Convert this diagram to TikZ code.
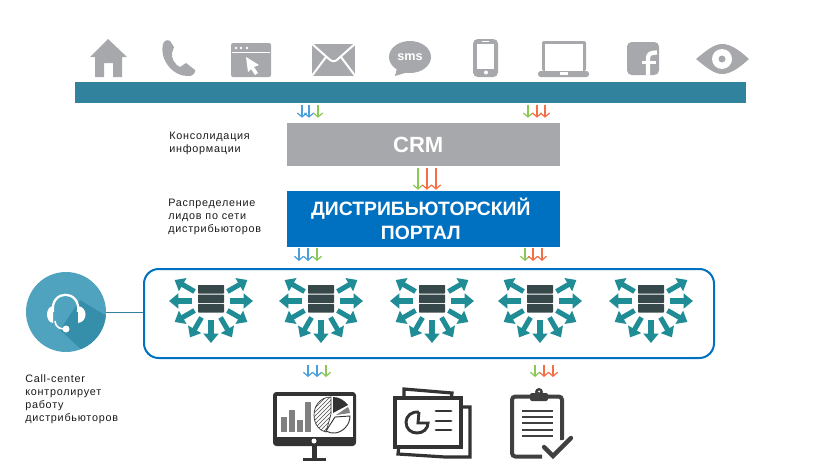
\documentclass[tikz,border=0pt]{standalone}
\usepackage{fontspec}
\usepackage{xcolor}
\usepackage{tikz}
\usetikzlibrary{arrows.meta, patterns}
\setmainfont{Liberation Sans}
\newfontfamily\labelfont[LetterSpace=7]{Liberation Sans}
\definecolor{barTeal}{HTML}{31839D}
\definecolor{iconGrey}{HTML}{A7A8AB}
\definecolor{portalBlue}{HTML}{0070C0}
\definecolor{flowBlue}{HTML}{4A9FDB}
\definecolor{flowGreen}{HTML}{8CC855}
\definecolor{flowRed}{HTML}{F56E45}
\definecolor{hubDark}{HTML}{37484A}
\definecolor{hubTeal}{HTML}{1F8C96}
\definecolor{callLight}{HTML}{4FA3BF}
\definecolor{callDark}{HTML}{358FAB}
\definecolor{iconDark}{HTML}{333333}

\begin{document}
\begin{tikzpicture}[
  x=0.75pt, y=-0.75pt,
  block/.style={minimum width=204.75pt, inner sep=0pt, align=center, text=white, font=\bfseries},
  caption/.style={anchor=north west, inner sep=0pt, align=left, font=\labelfont\fontsize{8.1}{9.75}\selectfont, text=black!90},
  icon/.style={fill=iconGrey},
  hole/.style={fill=white},
  flow/.style={-{Straight Barb[length=3pt, width=7pt]}, line width=0.9pt},
  spoke/.style={-{Triangle[length=7pt, width=11pt]}, line width=3.8pt, draw=hubTeal},
  dark/.style={draw=iconDark, line width=2.4pt},
  hub/.pic={
    \foreach \rowy in {285,294.5,304}
      \fill[hubDark, rounded corners=0.5pt] (-13,\rowy-301) rectangle (13,\rowy-301+8.5);
    \foreach \ang in {0,30,60,90,120,150,180,-150,-30}
      \draw[spoke] (\ang:19) -- (\ang:42);
  }
]
\useasboundingbox (0,0) rectangle (818,471);

\node[fill=barTeal, minimum width=503.25pt, minimum height=15.75pt, inner sep=0pt] (bar) at (410.5,92.5) {};
\node[block, fill=iconGrey, minimum height=32.25pt, font=\bfseries\fontsize{16.5}{18}\selectfont] (crm) at (423.5,144.5) {CRM\hspace*{8pt}};
\node[block, fill=portalBlue, minimum height=42pt, font=\bfseries\fontsize{14.5}{18}\selectfont] (portal) at (423.5,219) {ДИСТРИБЬЮТОРСКИЙ\hspace*{4pt}\\ПОРТАЛ\hspace*{4pt}};
\node[draw=portalBlue, line width=1.5pt, rounded corners=11pt, minimum width=427.5pt, minimum height=66.75pt, inner sep=0pt] (net) at (429,313.5) {};
\node[circle, fill=callLight, minimum size=60pt, inner sep=0pt] (callcenter) at (66,312) {};
\coordinate (reports) at (0,377);

\node[caption] (consolidation) at (169,131.5) {Консолидация\\информации};
\node[caption] (distribution) at (168,199) {Распределение\\лидов по сети\\дистрибьюторов};
\node[caption] (control) at (25,374.5) {Call-center\\контролирует\\работу\\дистрибьюторов};

\foreach \x/\c in {302/flowBlue,309/flowBlue,318/flowGreen,528/flowGreen,537/flowRed,545/flowRed}
  \draw[flow, draw=\c, shorten <=1pt, shorten >=3.75pt] (\x,0 |- bar.south) -- (\x,0 |- crm.north);
\foreach \x/\c in {418/flowGreen,427/flowRed,436/flowRed}
  \draw[flow, draw=\c, shorten <=1.5pt, shorten >=0.75pt] (\x,0 |- crm.south) -- (\x,0 |- portal.north);
\foreach \x/\c in {299/flowBlue,308/flowBlue,317/flowGreen,525/flowGreen,533/flowRed,542/flowRed}
  \draw[flow, draw=\c, shorten <=0.75pt, shorten >=5.25pt] (\x,0 |- portal.south) -- (\x,0 |- net.north);
\foreach \x/\c in {308/flowBlue,317/flowBlue,326/flowGreen,535/flowGreen,544/flowRed,553/flowRed}
  \draw[flow, draw=\c, shorten <=4.5pt] (\x,0 |- net.south) -- (\x,0 |- reports);
\draw[barTeal, line width=0.6pt] (callcenter.east) -- (callcenter.east -| net.west);

\foreach \hubx in {211,321,432,540,651}
  \pic at (\hubx,301) {hub};

\begin{scope}
  \clip (callcenter.center) circle (40);
  \fill[callDark] (80,300) -- (110,318) -- (110,380) -- (84,352) -- (60,330) -- cycle;
\end{scope}
\draw[white, line width=1.7pt] (53,312) .. controls (50,289) and (81,289) .. (78,312);
\fill[white] (53,306) .. controls (45,307) and (45,322) .. (53,323) -- cycle;
\fill[white] (78,306) -- (78,323) .. controls (88,322) and (88,307) .. (78,306) -- cycle;
\draw[white, line width=1.2pt] (55,321) .. controls (56,328) and (60,329) .. (66,329);
\fill[white] (66,329) circle (3.5);

% top row
\fill[icon] (108,39) -- (127,57) -- (122,57) -- (122,77) -- (113,77) -- (113,63) -- (104,63) -- (104,77) -- (95,77) -- (95,57) -- (90,57) -- cycle;
\fill[icon] (163,44) .. controls (159,58) and (172,76) .. (187,76) .. controls (193,77) and (196,72) .. (195,70) -- (186,63) -- (180,67) .. controls (175,65) and (171,58) .. (172,53) -- (174,47) -- (170,41) .. controls (167,39) and (164,41) .. (163,44) -- cycle;
\fill[icon, rounded corners=1.5pt] (231,43) rectangle (271,77);
\draw[white, line width=0.6pt] (232,52) -- (270,52);
\foreach \dotx in {236,241,247} \fill[hole] (\dotx,48) circle (1.3);
\fill[hole] (246,57) -- (259,65) -- (254,67) -- (258,73) -- (255,75) -- (251,69) -- (248,72) -- cycle;
\fill[icon] (312,44) rectangle (355,76);
\draw[white, line width=1.5pt] (311,43) -- (329,59) .. controls (332,62) and (335,62) .. (338,59) -- (356,43);
\draw[white, line width=1.5pt] (311,77) -- (326,57) (356,77) -- (341,57);
\fill[icon] (410,57) ellipse (21 and 16);
\fill[icon] (397,68) -- (395,76) -- (408,72) -- cycle;
\node[text=white, font=\bfseries\fontsize{9.5}{10}\selectfont, inner sep=0pt] (smstext) at (410,57) {sms};
\fill[icon, rounded corners=3.5pt] (473,39) rectangle (498,77);
\fill[hole] (477,44) rectangle (494,69);
\fill[hole] (486,72.5) circle (2);
\draw[white, line width=0.6pt] (482,41) -- (489,41);
\fill[icon, rounded corners=1.5pt] (542,41) rectangle (586,71);
\fill[hole] (545,44) rectangle (583,71);
\fill[icon, rounded corners=2pt] (538,71) rectangle (589,77);
\fill[hole] (560,72) rectangle (568,74.5);
\fill[icon, rounded corners=3.5pt] (627,42) rectangle (659,75);
\draw[white, line width=3.2pt] (648,75) -- (648,58) .. controls (648,54) and (651,52.5) .. (657,52.5);
\draw[white, line width=2.6pt] (642,62.5) -- (656,62.5);
\fill[icon] (696,59) .. controls (708,49) and (715,44) .. (722,44) .. controls (730,44) and (738,49) .. (749,59) .. controls (738,69) and (730,74) .. (722,74) .. controls (715,74) and (708,69) .. (696,59) -- cycle;
\fill[hole] (722,59) circle (10);
\fill[icon] (722,59) circle (3.5);

% bottom row
\fill[iconDark, rounded corners=2.5pt] (273,392) rectangle (356,446);
\fill[hole] (277,396) rectangle (353,437);
\fill[hole] (314,441) circle (2.5);
\fill[iconDark] (312,446) rectangle (317,458);
\fill[iconDark] (303,458) rectangle (326,461);
\foreach \barx/\bary in {281/417,289/410,297/420,305/402}
  \fill[black!50] (\barx,\bary) rectangle (\barx+6,432);
\draw[iconDark, line width=0.5pt, pattern=north east lines, pattern color=black!70] (331,414) -- (331,397) .. controls (320,397) and (314,406) .. (314,415) .. controls (314,425) and (320,431) .. (326,432) -- cycle;
\fill[iconDark] (333,397) .. controls (339,397) and (344,400) .. (348,405) -- (333,413) -- cycle;
\fill[black!50] (348,407) .. controls (349,409) and (350,411) .. (350,413) -- (336,415) -- cycle;
\draw[iconDark, line width=0.7pt, fill=white] (335,417) -- (350,416) .. controls (350,425) and (343,432) .. (335,433) .. controls (332,433) and (329,433) .. (326,431) -- cycle;

\draw[dark, fill=white] (404,389) -- (452,393) -- (451,400) -- (404,400) -- cycle;
\draw[dark, fill=white] (455,407) -- (470,407) -- (470,457) -- (445,457) -- (398,454) -- (399,445) -- (455,445) -- cycle;
\draw[dark, fill=white] (395,398) rectangle (461,447);
\draw[iconDark, line width=2.2pt] (419,412) .. controls (412,411) and (406,416) .. (406,422) .. controls (406,429) and (411,433) .. (417,433) .. controls (423,433) and (428,429) .. (428,423) -- (418,423) -- (419,412);
\foreach \liney in {411,421,430}
  \draw[iconDark, line width=2.2pt, line cap=round] (436,\liney) -- (451,\liney);

\draw[black!75, line width=3pt, rounded corners=2.5pt] (562,440) -- (562,396.5) -- (512,396.5) -- (512,456.5) -- (542,456.5);
\fill[black!75, rounded corners=1.5pt] (530,393) rectangle (548,401);
\fill[black!75] (539,392) circle (4);
\fill[hole] (539,391.5) circle (1);
\foreach \liney in {411,417,423,430,436}
  \draw[black!75, line width=1.4pt] (522,\liney) -- (553,\liney);
\draw[white, line width=6pt] (543,447) -- (553,456) -- (572,437);
\draw[black!75, line width=3.2pt, line cap=round] (544,447) -- (553,456) -- (571,438);

\end{tikzpicture}
\end{document}
